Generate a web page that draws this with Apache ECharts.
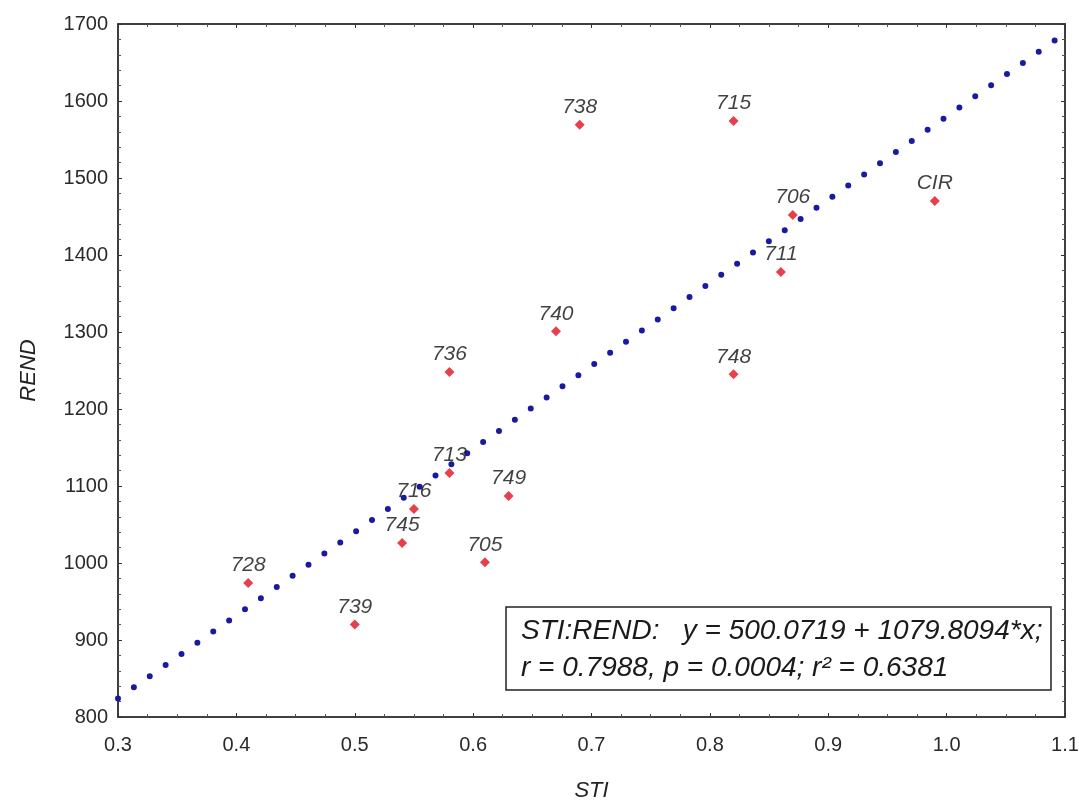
<!DOCTYPE html>
<html>
<head>
<meta charset="utf-8">
<script src="https://cdn.jsdelivr.net/npm/echarts@6/dist/echarts.min.js"></script>
<style>html,body{margin:0;padding:0;background:#fff;}#c{width:1079px;height:803px;}</style>
</head>
<body>
<div id="c"></div>
<script>
// Data
const labels = ['728','739','745','716','713','705','749','736','740','738','715','706','711','748','CIR'];
const sti    = [0.41, 0.50, 0.54, 0.55, 0.58, 0.61, 0.63, 0.58, 0.67, 0.69, 0.82, 0.87, 0.86, 0.82, 0.99];
const rend   = [974, 920, 1026, 1070, 1117, 1001, 1087, 1248, 1301, 1569, 1574, 1452, 1378, 1245, 1470];
// Regression line endpoints (y = 500.0719 + 1079.8094*x at x = 0.3 and 1.1)
const trendX = [0.3, 1.1];
const trendY = [824.0, 1687.9];
const xTicks = [0.3, 0.4, 0.5, 0.6, 0.7, 0.8, 0.9, 1.0, 1.1];
const yTicks = [800, 900, 1000, 1100, 1200, 1300, 1400, 1500, 1600, 1700];
const eqLine1 = 'STI:REND:   y = 500.0719 + 1079.8094*x;';
const eqLine2 = 'r = 0.7988, p = 0.0004; r\u00B2 = 0.6381';

const points = sti.map((x, i) => ({ value: [x, rend[i]], name: labels[i] }));
const trend = trendX.map((x, i) => [x, trendY[i]]);

const chart = echarts.init(document.getElementById('c'));
const font = 'Liberation Sans, Arial, sans-serif';
const axisCommon = {
  axisLine: { show: true, lineStyle: { color: '#333', width: 1.5 } },
  axisTick: { show: true, inside: true, length: 4, lineStyle: { color: '#333' } },
  splitLine: { show: false }
};
const xMinor = { minorTick: { show: true, splitNumber: 4, length: 3, lineStyle: { color: '#555' } } };
const yMinor = { minorTick: { show: true, splitNumber: 5, length: 3, lineStyle: { color: '#555' } } };
chart.setOption({
  animation: false,
  backgroundColor: '#fff',
  grid: { left: 118, right: 14, top: 24, bottom: 86, show: true, borderColor: '#333', borderWidth: 1.5,
    containLabel: false, outerBoundsMode: 'none' },
  xAxis: [Object.assign({
    type: 'value', min: xTicks[0], max: xTicks[xTicks.length - 1], interval: 0.1,
    name: 'STI', nameLocation: 'middle', nameGap: 63,
    nameTextStyle: { fontFamily: font, fontStyle: 'italic', fontSize: 22, color: '#222' },
    axisLabel: { fontFamily: font, fontSize: 20, color: '#2a2a2a', margin: 18,
      formatter: v => v.toFixed(1) }
  }, axisCommon, xMinor),
  Object.assign({
    type: 'value', position: 'top', min: xTicks[0], max: xTicks[xTicks.length - 1], interval: 0.1,
    axisLabel: { show: false }
  }, axisCommon, xMinor)],
  yAxis: [Object.assign({
    type: 'value', min: yTicks[0], max: yTicks[yTicks.length - 1], interval: 100,
    name: 'REND', nameLocation: 'middle', nameGap: 78,
    nameTextStyle: { fontFamily: font, fontStyle: 'italic', fontSize: 22, color: '#222' },
    axisLabel: { fontFamily: font, fontSize: 20, color: '#2a2a2a', margin: 10,
      formatter: v => String(v) }
  }, axisCommon, yMinor),
  Object.assign({
    type: 'value', position: 'right', min: yTicks[0], max: yTicks[yTicks.length - 1], interval: 100,
    axisLabel: { show: false }
  }, axisCommon, yMinor)],
  series: [
    {
      type: 'line', data: trend, symbol: 'none', silent: true, z: 2,
      lineStyle: { color: '#1a1aa0', width: 6, type: [0, 19.4], cap: 'round' }
    },
    {
      type: 'scatter', data: points, symbol: 'diamond', symbolSize: 10, z: 3,
      itemStyle: { color: '#e0101e' },
      label: { show: true, position: 'top', distance: 2, formatter: p => p.name,
        fontFamily: font, fontStyle: 'italic', fontSize: 21, color: '#111', textBorderWidth: 0 }
    }
  ],
  graphic: [
    { type: 'rect', shape: { x: 506, y: 607, width: 545, height: 83 },
      style: { fill: '#fff', stroke: '#222', lineWidth: 1.5 }, z: 10 },
    { type: 'text', x: 521, y: 631, z: 11,
      style: { text: eqLine1, fontFamily: font, fontStyle: 'italic', fontSize: 28, fill: '#1a1a1a', verticalAlign: 'middle' } },
    { type: 'text', x: 521, y: 668, z: 11,
      style: { text: eqLine2, fontFamily: font, fontStyle: 'italic', fontSize: 28, fill: '#1a1a1a', verticalAlign: 'middle' } }
  ]
});
</script>
</body>
</html>
